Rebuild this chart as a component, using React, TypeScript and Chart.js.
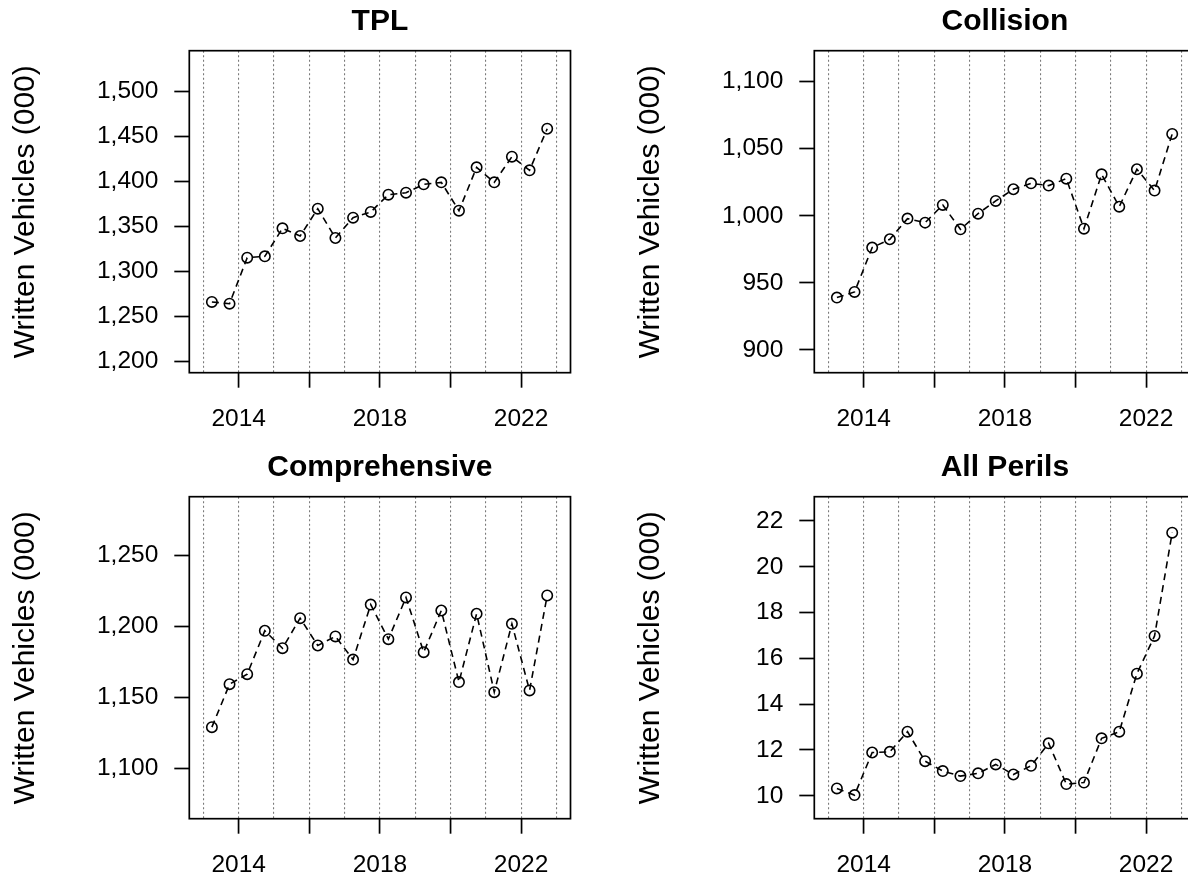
import React, { useEffect, useRef } from "react";
import { Chart, registerables } from "chart.js";

Chart.register(...registerables);
Chart.defaults.font.family = "'Liberation Sans', Arial, Helvetica, sans-serif";

// ---- data ----
const periods = [
  2013.24, 2013.74, 2014.24, 2014.74, 2015.24, 2015.74, 2016.24, 2016.74, 2017.24, 2017.74,
  2018.24, 2018.74, 2019.24, 2019.74, 2020.24, 2020.74, 2021.24, 2021.74, 2022.24, 2022.74,
];
const tplValues = [
  1265.6, 1263.7, 1314.8, 1316.3, 1347.4, 1338.9, 1369.3, 1336.7, 1359.3, 1365.6,
  1384.8, 1387.0, 1396.3, 1398.5, 1367.0, 1415.2, 1398.5, 1427.0, 1411.9, 1458.1,
];
const collisionValues = [
  939.0, 943.2, 976.3, 982.5, 997.9, 994.9, 1008.1, 989.9, 1001.6, 1011.1,
  1019.8, 1024.2, 1022.5, 1027.7, 990.4, 1030.9, 1006.8, 1034.7, 1018.8, 1061.0,
];
const comprehensiveValues = [
  1128.9, 1159.2, 1166.3, 1196.9, 1184.6, 1205.8, 1186.5, 1192.9, 1176.6, 1215.4,
  1191.0, 1220.4, 1181.8, 1211.2, 1160.7, 1208.9, 1153.6, 1201.8, 1154.8, 1221.8,
];
const allPerilsValues = [
  10.32, 10.03, 11.89, 11.92, 12.8, 11.51, 11.08, 10.86, 10.98, 11.37,
  10.93, 11.31, 12.29, 10.51, 10.58, 12.51, 12.8, 15.33, 16.98, 21.49,
];
const xLabelYears = [2014, 2018, 2022];
const xTickYears = [2014, 2016, 2018, 2020, 2022];
const yAxisTitle = "Written Vehicles (000)";

// ---- layout constants ----
const PANEL_W = 594;
const PANEL_H = 439;

type PanelProps = {
  title: string;
  values: number[];
  yMin: number;
  yMax: number;
  yStep: number;
  left: number;
  top: number;
};

const framePlugin = {
  id: "frame",
  afterDraw(chart: any) {
    const { ctx, chartArea } = chart;
    const { left, top, right, bottom } = chartArea;
    ctx.save();
    ctx.strokeStyle = "#000";
    ctx.lineWidth = 1.7;
    ctx.setLineDash([]);
    ctx.strokeRect(left, top, right - left, bottom - top);
    ctx.restore();
  },
};

function Panel({ title, values, yMin, yMax, yStep, left, top }: PanelProps) {
  const ref = useRef<HTMLCanvasElement>(null);
  useEffect(() => {
    const canvas = ref.current;
    if (!canvas) return;
    const chart = new Chart(canvas, {
      type: "line",
      data: {
        datasets: [
          {
            data: periods.map((p, i) => ({ x: p, y: values[i] })),
            borderColor: "#000",
            borderWidth: 1.6,
            borderDash: [7, 5],
            pointStyle: "circle",
            pointRadius: 5.2,
            pointBorderWidth: 1.6,
            pointBorderColor: "#000",
            pointBackgroundColor: "rgba(0,0,0,0)",
            tension: 0,
            fill: false,
            clip: false,
          } as any,
        ],
      },
      options: {
        animation: false,
        responsive: false,
        devicePixelRatio: 1,
        layout: { padding: { left: 0, right: 23.5, top: 0, bottom: 0 } },
        plugins: {
          legend: { display: false },
          tooltip: { enabled: false },
          title: {
            display: true,
            text: title,
            fullSize: false,
            color: "#000",
            font: { size: 30, weight: "bold" },
            padding: { top: 4, bottom: 10.7 },
          },
        },
        scales: {
          x: {
            type: "linear",
            min: 2012.6,
            max: 2023.4,
            afterFit: (s: any) => {
              s.height = 66.3;
            },
            border: { display: false, dash: [2, 2.5] },
            grid: {
              display: true,
              drawOnChartArea: true,
              drawTicks: true,
              color: "#7a7a7a",
              lineWidth: 1.1,
              tickLength: 15,
              tickWidth: 1.7,
              tickBorderDash: [],
              tickColor: (ctx: any) =>
                ctx.tick && xTickYears.includes(Math.round(ctx.tick.value)) ? "#000" : "rgba(0,0,0,0)",
            },
            ticks: {
              stepSize: 1,
              includeBounds: false,
              autoSkip: false,
              maxRotation: 0,
              minRotation: 0,
              padding: 16.4,
              color: "#000",
              font: { size: 24.5 },
              callback: (v: any) => (xLabelYears.includes(Math.round(Number(v))) ? String(Math.round(Number(v))) : ""),
            },
          },
          y: {
            type: "linear",
            min: yMin,
            max: yMax,
            afterFit: (s: any) => {
              s.width = 189.3;
            },
            border: { display: false },
            grid: {
              drawOnChartArea: false,
              drawTicks: true,
              tickLength: 15,
              tickWidth: 1.7,
              tickColor: "#000",
              color: "#000",
            },
            ticks: {
              stepSize: yStep,
              includeBounds: false,
              autoSkip: false,
              padding: 16,
              color: "#000",
              font: { size: 24.5 },
              callback: (v: any) => Number(v).toLocaleString("en-US"),
            },
            title: {
              display: true,
              text: yAxisTitle,
              color: "#000",
              font: { size: 30 },
              padding: { top: 8, bottom: 0 },
            },
          },
        },
      } as any,
      plugins: [framePlugin],
    });
    return () => chart.destroy();
  }, [title, values, yMin, yMax, yStep]);
  return (
    <canvas
      ref={ref}
      width={PANEL_W}
      height={PANEL_H}
      style={{ position: "absolute", left, top, width: PANEL_W, height: PANEL_H }}
    />
  );
}

export default function App() {
  return (
    <div
      style={{
        position: "fixed",
        left: 0,
        top: 0,
        width: 1188,
        height: 878,
        overflow: "hidden",
        background: "#fff",
      }}
    >
      <Panel title="TPL" values={tplValues} yMin={1187} yMax={1544.8} yStep={50} left={0} top={0} />
      <Panel title="Collision" values={collisionValues} yMin={883} yMax={1123.1} yStep={50} left={625} top={0} />
      <Panel title="Comprehensive" values={comprehensiveValues} yMin={1064.3} yMax={1291.5} yStep={50} left={0} top={446} />
      <Panel title="All Perils" values={allPerilsValues} yMin={9.0} yMax={23.06} yStep={2} left={625} top={446} />
    </div>
  );
}
